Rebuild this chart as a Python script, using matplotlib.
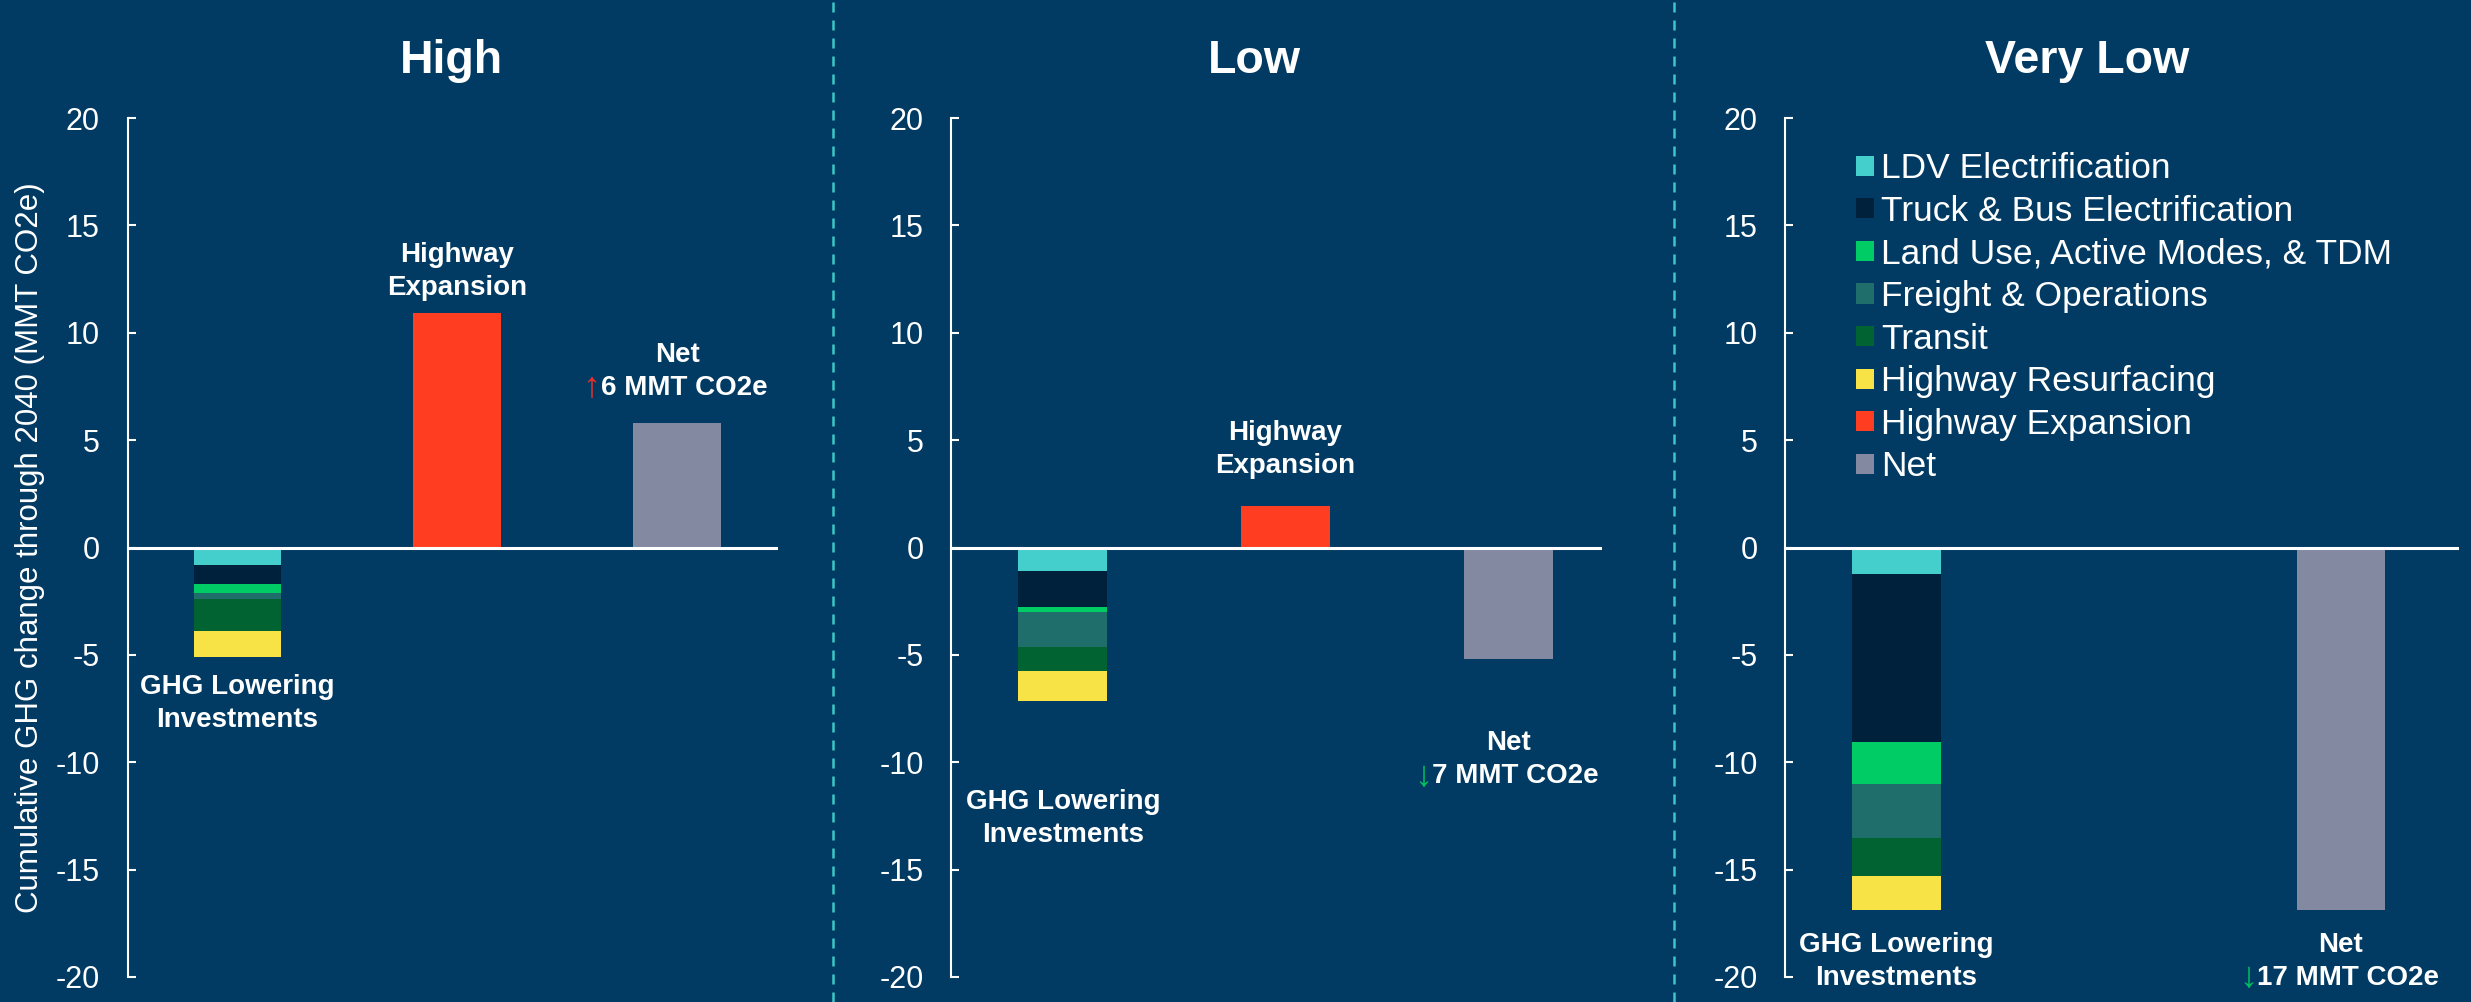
import numpy as np
import matplotlib.pyplot as plt
from matplotlib.patches import Patch
from matplotlib.lines import Line2D

plt.rcParams['font.family'] = ['Liberation Sans', 'DejaVu Sans']
plt.rcParams['axes.unicode_minus'] = False

# scenarios and bar groups
scenarios = ['High', 'Low', 'Very Low']
programs = ['LDV Electrification', 'Truck & Bus Electrification',
            'Land Use, Active Modes, & TDM', 'Freight & Operations',
            'Transit', 'Highway Resurfacing']

# cumulative GHG change through 2040 (MMT CO2e), one segment per program
high_ghg = [-0.81, -0.88, -0.44, -0.26, -1.49, -1.20]
low_ghg = [-1.09, -1.67, -0.24, -1.63, -1.12, -1.39]
very_low_ghg = [-1.24, -7.81, -1.95, -2.51, -1.81, -1.54]
highway_expansion = [10.9, 1.95, 0.0]

net_arrows = ['\u2191', '\u2193', '\u2193']
net_texts = ['6 MMT CO2e', '7 MMT CO2e', '17 MMT CO2e']

# colours
BG = '#013A62'
prog_colors = ['#45CFCC', '#00213B', '#00CC66', '#1F6E6C', '#016332', '#F8E346']
HE_COLOR = '#FF3D21'
NET_COLOR = '#8389A1'
ARROW_COLORS = ['#E8312A', '#00C060', '#00C060']
DIVIDER = '#3CC6C8'

W, H = 2471, 1002
LINE = 23.8      # line step of the two-line labels, points
LBL = 20         # bar label font size

# axes layout per panel
layout = [
    dict(left=127.6, right=776.0, xmax=2.45, title_x=451, ghg_y=-6.84, he_y=13.31, net_y=8.65),
    dict(left=951.4, right=1599.6, xmax=2.41, title_x=1254, ghg_y=-12.17, he_y=5.02, net_y=-9.45),
    dict(left=1785.4, right=2456.5, xmax=2.52, title_x=2087, ghg_y=-18.83, he_y=None, net_y=-18.83),
]
y_top, y_bot = 118.0, 977.0

fig = plt.figure(figsize=(W / 100, H / 100), dpi=100, facecolor=BG)

ghg_all = [high_ghg, low_ghg, very_low_ghg]


def two_lines(ax, x, y, first, second, dx=0):
    ax.text(x, y, first, ha='center', va='baseline', color='white',
            fontsize=LBL, fontweight='bold')
    return ax.annotate(second, xy=(x, y), xytext=(dx, -LINE), textcoords='offset points',
                       ha='center', va='baseline', color='white',
                       fontsize=LBL, fontweight='bold')


for i, lay in enumerate(layout):
    ax = fig.add_axes([lay['left'] / W, 1 - y_bot / H,
                       (lay['right'] - lay['left']) / W, (y_bot - y_top) / H])
    ax.set_facecolor(BG)

    ghg = np.array(ghg_all[i])
    bottoms = np.concatenate([[0], np.cumsum(ghg)[:-1]])
    for seg, b, c in zip(ghg, bottoms, prog_colors):
        ax.bar(0, seg, bottom=b, width=0.4, color=c)
    ax.bar(1, highway_expansion[i], width=0.4, color=HE_COLOR)
    net = ghg.sum() + highway_expansion[i]
    ax.bar(2, net, width=0.4, color=NET_COLOR)

    ax.set_xlim(-0.5, lay['xmax'])
    ax.set_ylim(-20, 20)
    ax.set_yticks(np.arange(-20, 21, 5))
    ax.set_xticks([])
    ax.tick_params(axis='y', direction='in', length=6, width=1.5, colors='white',
                   labelsize=22, pad=20)
    for s in ['top', 'right']:
        ax.spines[s].set_visible(False)
    ax.spines['left'].set_color('white')
    ax.spines['left'].set_linewidth(1.5)
    ax.spines['bottom'].set_position(('data', 0))
    ax.spines['bottom'].set_color('white')
    ax.spines['bottom'].set_linewidth(2.2)

    # bar labels
    two_lines(ax, 0, lay['ghg_y'], 'GHG Lowering', 'Investments')
    if lay['he_y'] is not None:
        two_lines(ax, 1, lay['he_y'], 'Highway', 'Expansion')
    t = two_lines(ax, 2, lay['net_y'], 'Net', net_texts[i], dx=5)
    ax.annotate(net_arrows[i], xy=(0, 0), xycoords=t, xytext=(0, -3),
                textcoords='offset points', ha='right', va='bottom',
                color=ARROW_COLORS[i], fontsize=26)

    fig.text(lay['title_x'] / W, 1 - 72.7 / H, scenarios[i], ha='center', va='baseline',
             color='white', fontsize=33.5, fontweight='bold')

    if i == 2:
        handles = [Patch(facecolor=c) for c in prog_colors + [HE_COLOR, NET_COLOR]]
        labels = programs + ['Highway Expansion', 'Net']
        leg = ax.legend(handles, labels, loc='upper left', bbox_to_anchor=(0.105, 0.96),
                        frameon=False, fontsize=25.5, labelspacing=0.27,
                        handlelength=0.5, handleheight=0.5, handletextpad=0.22,
                        borderpad=0, borderaxespad=0)
        for txt in leg.get_texts():
            txt.set_color('white')

fig.text(30 / W, 1 - 547.7 / H, 'Cumulative GHG change through 2040 (MMT CO2e)',
         rotation=90, ha='center', va='center', color='white', fontsize=22.5)

# dashed panel dividers
for x in [833, 1674]:
    fig.add_artist(Line2D([x / W, x / W], [0, 1], transform=fig.transFigure,
                          color=DIVIDER, lw=1.8, linestyle=(0, (4, 3.2))))

fig.savefig('out.png', dpi=100, facecolor=BG)
